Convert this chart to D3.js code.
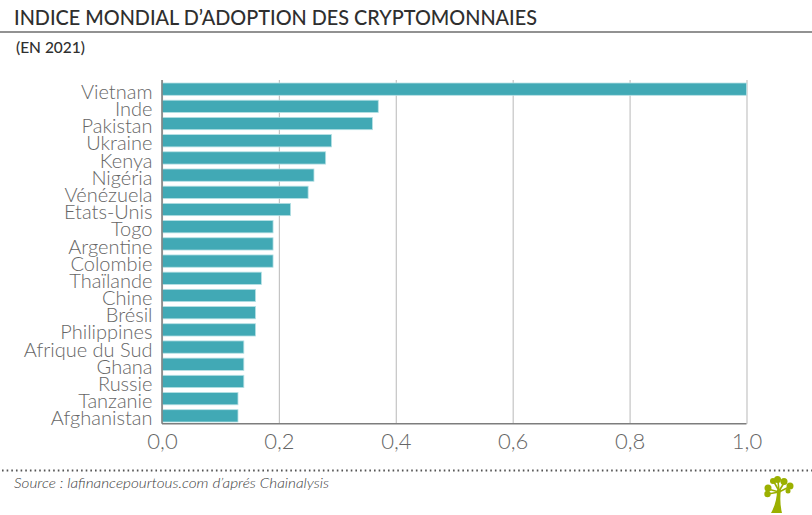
<!DOCTYPE html>
<html>
<head>
<meta charset="utf-8">
<script src="https://cdnjs.cloudflare.com/ajax/libs/d3/7.8.5/d3.min.js"></script>
<style>
    html, body { margin: 0; padding: 0; background: #fff; }
    svg { display: block; }
    text { font-family: Lato, "Noto Sans", sans-serif; }
</style>
</head>
<body>
<div id="chart"></div>
<script>
const countries = ['Vietnam', 'Inde', 'Pakistan', 'Ukraine', 'Kenya', 'Nigéria', 'Vénézuela', 'Etats-Unis', 'Togo', 'Argentine',
    'Colombie', 'Thaïlande', 'Chine', 'Brésil', 'Philippines', 'Afrique du Sud', 'Ghana', 'Russie', 'Tanzanie', 'Afghanistan'];
const indexValues = [1, 0.37, 0.36, 0.29, 0.28, 0.26, 0.25, 0.22, 0.19, 0.19,
    0.19, 0.17, 0.16, 0.16, 0.16, 0.14, 0.14, 0.14, 0.13, 0.13];
const xTicks = [0, 0.2, 0.4, 0.6, 0.8, 1];

const titleText = 'INDICE MONDIAL D’ADOPTION DES CRYPTOMONNAIES';
const subtitleText = '(EN 2021)';
const sourceText = 'Source : lafinancepourtous.com d’aprés Chainalysis';

const svg = d3.select('#chart').append('svg')
    .attr('width', 812)
    .attr('height', 515);

const margins = {top: 80, right: 65.5, bottom: 91.3, left: 162},
    width = 812 - margins.left - margins.right,
    height = 515 - margins.top - margins.bottom;

// header
svg.append('text')
    .attr('x', 14).attr('y', 25)
    .attr('font-size', 22).attr('font-weight', 500)
    .attr('textLength', 523).attr('lengthAdjust', 'spacingAndGlyphs')
    .attr('fill', '#2f2f2f')
    .text(titleText);
svg.append('line')
    .attr('x1', 0).attr('x2', 812)
    .attr('y1', 32).attr('y2', 32)
    .attr('stroke', '#6e6e6e').attr('stroke-width', 1.5);
svg.append('text')
    .attr('x', 16).attr('y', 52.5)
    .attr('font-size', 15).attr('font-weight', 500)
    .attr('textLength', 69).attr('lengthAdjust', 'spacingAndGlyphs')
    .attr('fill', '#2f2f2f')
    .text(subtitleText);

const chartLayer = svg.append('g')
    .attr('transform', 'translate(' + margins.left + ', ' + margins.top + ')');

const x = d3.scaleLinear().domain([0, 1]).range([0, width]);
// band range runs a touch past the axis line, the last bar sits close to it
const y = d3.scaleBand().domain(countries).range([0, height + 1.3]).paddingInner(0.285).paddingOuter(0.175);

// x axis with full height grid lines
const xAxisGroup = chartLayer.append('g')
    .attr('transform', 'translate(0,' + height + ')')
    .call(d3.axisBottom(x).tickValues(xTicks).tickSize(0).tickPadding(10)
        .tickFormat(d => d3.format('.1f')(d).replace('.', ',')));
xAxisGroup.select('.domain').remove();
xAxisGroup.selectAll('.tick line')
    .attr('y2', -height)
    .attr('stroke', '#c4c4c4')
    .attr('stroke-width', 1.2);
xAxisGroup.selectAll('text')
    .attr('fill', '#666')
    .attr('font-size', 22)
    .attr('font-weight', 300);

chartLayer.selectAll('rect.bar')
    .data(indexValues)
    .enter().append('rect')
    .attr('class', 'bar')
    .attr('x', 0)
    .attr('y', (d, i) => y(countries[i]))
    .attr('width', d => x(d))
    .attr('height', y.bandwidth())
    .attr('fill', '#41a9b5')
    .attr('stroke', '#b5e0e4')
    .attr('stroke-width', 0.8);

// y axis labels, bigger than their band in the original so they overlap a bit
const yAxisGroup = chartLayer.append('g')
    .call(d3.axisLeft(y).tickSize(0).tickPadding(9.5));
yAxisGroup.select('.domain').remove();
yAxisGroup.selectAll('text')
    .attr('fill', '#666')
    .attr('font-size', 20)
    .attr('font-weight', 300)
    .attr('dy', '0.48em');

// axis lines on top of the bars
chartLayer.append('line')
    .attr('x1', 0).attr('x2', 0).attr('y1', 0).attr('y2', height)
    .attr('stroke', '#7d7d7d').attr('stroke-width', 1.5);
chartLayer.append('line')
    .attr('x1', 0).attr('x2', width).attr('y1', height).attr('y2', height)
    .attr('stroke', '#7d7d7d').attr('stroke-width', 1.5);

// footer
svg.append('line')
    .attr('x1', 2).attr('x2', 812)
    .attr('y1', 470.5).attr('y2', 470.5)
    .attr('stroke', '#555')
    .attr('stroke-width', 2)
    .attr('stroke-dasharray', '1.6,3.05');
svg.append('text')
    .attr('x', 14).attr('y', 488)
    .attr('font-size', 13.5).attr('font-weight', 300)
    .attr('font-style', 'italic')
    .attr('textLength', 315).attr('lengthAdjust', 'spacingAndGlyphs')
    .attr('fill', '#3c3c3c')
    .text(sourceText);

// logo: little green tree
const treeGreen = '#9bb000';
const tree = svg.append('g').attr('fill', treeGreen);
tree.append('path').attr('d', 'M771,513 C775,506 777,498 777,490 L781,489 C780,497 780,505 782,513 Z');
[[768, 488, 3.5], [767.5, 494, 3.2], [773, 481, 3], [777.5, 479.5, 3.5], [784, 481.5, 3.5], [790, 486, 3.5], [788, 491, 2.5]].forEach(c => {
    tree.append('circle').attr('cx', c[0]).attr('cy', c[1]).attr('r', c[2]);
});
[[779, 492, 768, 489], [779, 492, 768, 494], [779, 491, 774, 482], [779, 491, 778, 481], [779, 491, 784, 483], [779, 492, 789, 487]].forEach(b => {
    tree.append('line').attr('x1', b[0]).attr('y1', b[1]).attr('x2', b[2]).attr('y2', b[3])
        .attr('stroke', treeGreen).attr('stroke-width', 1.6);
});
</script>
</body>
</html>
